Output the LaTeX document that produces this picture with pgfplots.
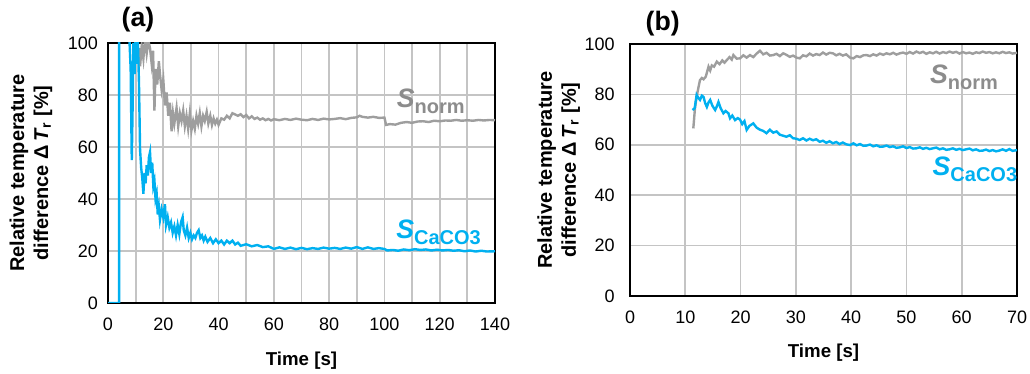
\documentclass[border=0pt]{standalone}
\usepackage{pgfplots}
\pgfplotsset{compat=1.18}
\usepackage{fontspec}
\setmainfont{Liberation Sans}
\definecolor{cblue}{HTML}{00B0F0}
\definecolor{cgray}{HTML}{9E9E9E}
\definecolor{tgray}{HTML}{8C8C8C}
\definecolor{cgrid}{HTML}{C4C4C4}
\newcommand{\Slab}[1]{{\fontsize{20}{22}\selectfont\bfseries\itshape S}\raisebox{-4.5pt}{\fontsize{15}{17}\selectfont\bfseries #1}}
\pgfplotsset{
  myax/.style={
    scale only axis,
    width=290.25pt,
    ymin=0, ymax=100,
    ytick={0,20,...,100},
    grid=both,
    major grid style={line width=1.3pt, cgrid},
    minor grid style={line width=1.3pt, cgrid},
    axis line style={line width=1pt, black},
    major tick length=0pt, minor tick length=0pt,
    tick style={draw=none},
    /pgf/number format/assume math mode=true,
    tick label style={font=\fontsize{13.5}{15}\selectfont},
    label style={font=\fontsize{14}{16.5}\selectfont\bfseries},
    ylabel style={align=center, font=\fontsize{15}{18}\selectfont\bfseries},
    ylabel={Relative temperature\\difference {\upshape Δ}\,\textit{T}\textsubscript{r} [\%]},
    xlabel={Time [s]},
    clip=true,
  }
}
\begin{document}
\begin{tikzpicture}[x=1pt,y=1pt]
\useasboundingbox (0,0) rectangle (772.5,280.5);
% ---------- panel (a)
\begin{axis}[myax, at={(81pt,53.25pt)}, anchor=south west, height=195pt,
  xmin=0, xmax=140, xtick={0,20,...,140}, minor xtick={10,30,...,130},
  xlabel style={at={(axis description cs:0.5,-0.17)}, anchor=north},
  ylabel style={at={(axis description cs:-0.132,0.5)}, anchor=south},
  yticklabel style={xshift=-4pt}, xticklabel style={yshift=-8pt}]
\addplot[cgray, line width=1.8pt] coordinates {
(10.4,100)(10.8,93)(11.2,98)(11.6,91)(12.2,99)(12.8,94)(13.4,102)(14,96)(14.6,101)(15.2,98)(15.8,92)(16.3,97)(16.8,74)(17.2,90)(17.8,84)(18.4,93)(18.8,88)(19.4,82)(20,86)(20.6,76)(21.2,81)(21.8,72)(22.4,77)(23,66)(23.5,73)(24,69)(24.8,75)(25.4,68)(26,73)(26.6,70)(27.2,74)(27.8,68)(28.4,72)(29,67)(29.6,73)(30.2,66.5)(30.8,70)(31.4,67)(32,72)(32.6,69)(33.2,73)(33.8,68)(34.4,72)(35,70)(35.7,73.5)(36.3,69)(37,72)(37.6,68.5)(38.2,71)(38.8,69)(39.4,70.5)(40,68.5)(41,71)(42,70.5)(43,72)(44,71)(45,73)(46,72.5)(47,72)(48,72.6)(49,71.5)(50,72.3)(51,71)(52,71.8)(53,70.8)(54,71.3)(55,70.5)(56,71)(57,70.3)(58,70.8)(59,70.2)(60,70.7)(62,70.3)(64,70.8)(66,70.4)(68,70.9)(70,70.5)(72,70.3)(74,70.8)(76,70.4)(78,70.9)(80,70.6)(82,70.8)(84,71.1)(86,70.7)(88,71.2)(90,71.4)(91,72)(92,71.6)(94,71.3)(96,71.6)(98,71.2)(100,71.3)(100.6,68.5)(102,68.8)(104,68.6)(106,69.3)(108,69.6)(110,69.3)(112,69.8)(114,69.9)(116,69.6)(118,70.1)(120,69.9)(122,70.2)(124,70.1)(126,70.4)(128,70.1)(130,70.3)(132,70.1)(134,70.4)(136,70.2)(138,70.4)(140,70.3)
};
\addplot[cblue, line width=1.8pt] coordinates {
(0,0)(4,0)(4,300)(7.6,300)(7.8,100)(8.2,90)(8.6,55)(8.9,75)(9.2,100)(9.6,88)(10,105)(10.4,92)(10.8,101)(11.2,85)(11.6,59)(12,52)(12.4,48)(12.8,42)(13.2,50)(13.6,46)(14,53)(14.4,49)(14.8,56)(15.2,58)(15.6,50)(16,54)(16.4,45)(16.8,47)(17.2,40)(17.6,42)(18,34)(18.4,37)(18.8,32)(19.4,36)(20,33)(20.6,38)(21,30)(21.6,33)(22.2,29)(22.8,31)(23.4,27)(24,29.5)(24.6,26)(25.2,30)(25.8,26.5)(26.4,31)(27,33)(27.4,28)(28,26)(28.6,29)(29.2,25)(29.8,27)(30.4,24.5)(31,26)(31.6,25)(32.2,27)(32.8,28)(33.4,25)(34,26)(34.6,24)(35.2,25.5)(36,23.5)(37,25)(38,23)(39,24.5)(40,23)(41,24)(42,22.5)(43,24)(44,23)(45,24)(46,22.5)(47,23.2)(48,22)(50,22.6)(52,21.8)(54,22.3)(56,21.5)(58,21.8)(60,20.8)(62,21.4)(64,20.8)(66,21.3)(68,20.7)(70,21.2)(72,20.7)(74,21.1)(76,20.8)(78,21.3)(80,20.9)(82,21.2)(84,20.8)(86,21.3)(88,20.9)(90,21.5)(92,20.8)(94,21.4)(96,20.8)(98,21.1)(100,20.8)(101,20.2)(103,20.4)(105,20.1)(107,20.6)(109,20.3)(111,20.7)(113,20.4)(115,20.6)(117,20.2)(119,20.5)(121,20.2)(123,20.4)(125,20.1)(127,20.3)(129,19.9)(131,20.2)(133,19.8)(135,20.1)(137,19.8)(140,19.9)
};
\node[anchor=base west, inner sep=0, text=tgray] at (axis cs:104.4,75.3) {\Slab{norm}};
\node[anchor=base west, inner sep=0, text=cblue] at (axis cs:104.2,24.9) {\Slab{CaCO3}};
\end{axis}
\node[font=\fontsize{20}{22}\selectfont\bfseries] at (103.5,265.5) {(a)};
% ---------- panel (b)
\begin{axis}[myax, at={(472.5pt,58.5pt)}, anchor=south west, height=189pt,
  xmin=0, xmax=70, xtick={0,10,...,70},
  xlabel style={at={(axis description cs:0.5,-0.17)}, anchor=north},
  ylabel style={at={(axis description cs:-0.117,0.5)}, anchor=south},
  yticklabel style={xshift=-8pt}, xticklabel style={yshift=-8pt}]
\addplot[cgray, line width=1.8pt] coordinates {
(11.45,66.5)(11.75,74.5)(12.05,79)(12.4,83)(12.66,85.7)(13,86.5)(13.3,86)(13.7,87)(14.2,91)(14.5,89.5)(14.8,91.5)(15.2,91)(15.7,93)(16.2,92)(16.7,93.5)(17.1,92.6)(17.5,93.6)(18,94.8)(18.4,93.8)(18.7,95.6)(19.3,94.2)(19.9,94.3)(20.5,95.5)(21.1,94.6)(21.7,95.6)(22.3,94.8)(22.9,96.2)(23.5,97.3)(24.1,95.9)(24.7,96.5)(25.3,95.4)(25.9,95.6)(26.5,96.1)(27.1,95.2)(27.7,96.3)(28.3,95.7)(28.9,94.9)(29.5,95.4)(30.1,94.6)(30.7,94.3)(31.3,95.5)(31.9,95.1)(32.5,96.2)(33.1,95.4)(33.7,96)(34.3,95.6)(34.9,96.6)(35.5,95.8)(36.1,96.5)(36.7,96.3)(37.3,95.5)(37.9,96.1)(38.5,95.4)(39.1,95.9)(39.8,94.6)(40.4,94.3)(41,95.2)(41.6,94.8)(42.2,95.5)(42.8,95.6)(43.4,95.2)(44,95.9)(44.6,95.4)(45.2,96.2)(45.8,95.7)(46.4,96.3)(47,95.9)(47.6,96.5)(48.2,95.8)(48.8,96.3)(49.4,96.6)(50,96.1)(50.6,96.8)(51.2,96.2)(51.8,97)(52.4,96.4)(53,96.9)(53.6,96.1)(54.2,96.7)(54.8,96.3)(55.4,96.9)(56,96.2)(56.6,96.8)(57.2,96.4)(57.8,97)(58.4,96.5)(59,96.9)(59.6,96.2)(60.2,96.8)(60.8,96.3)(61.4,96.6)(62,96.1)(62.6,96.7)(63.2,96.4)(63.8,97)(64.4,96.5)(65,96.8)(65.6,96.3)(66.2,96.7)(66.8,96.3)(67.4,96.9)(68,96.4)(68.6,96.7)(69.2,96.2)(70,96.5)
};
\addplot[cblue, line width=1.8pt] coordinates {
(11.3,73.8)(11.7,74.5)(12.05,79.8)(12.4,78.5)(12.66,77.8)(13,79.5)(13.3,79)(13.6,76.5)(13.9,75)(14.2,76.8)(14.5,77.8)(14.9,75.5)(15.4,73.8)(15.7,75.2)(16,77)(16.4,74.5)(16.9,72.5)(17.3,73.4)(17.8,72.5)(18.1,70.5)(18.5,71.6)(19,69.8)(19.5,70.6)(19.9,70)(20.3,68.2)(20.7,69.4)(21.1,65.9)(21.6,67.5)(22.3,68.5)(22.9,66.8)(23.5,66)(24.1,65.5)(24.7,64.6)(25.3,66)(25.9,64.8)(26.5,65.3)(27.1,64)(27.7,63.6)(28.3,63.2)(28.9,63.8)(29.5,62.6)(30.1,62.4)(30.7,61.9)(31.3,62.6)(31.9,61.7)(32.5,62.4)(33.1,61.8)(33.7,62.2)(34.3,61.2)(34.9,61.6)(35.5,60.8)(36.1,61.4)(36.7,60.6)(37.3,61.1)(37.9,60.3)(38.5,60.9)(39.1,60.2)(39.8,59.9)(40.4,60.6)(41,59.8)(41.6,60.3)(42.2,59.6)(42.8,59.7)(43.4,60.1)(44,59.4)(44.6,59.8)(45.2,59.2)(45.8,59.3)(46.4,59.7)(47,59.1)(47.6,59.4)(48.2,58.8)(48.8,59)(49.4,59.4)(50,58.7)(50.6,59.1)(51.2,58.5)(51.8,58.6)(52.4,59)(53,58.4)(53.6,58.8)(54.2,58.3)(54.8,58.6)(55.4,58.9)(56,58.2)(56.6,58.6)(57.2,58)(57.8,58.2)(58.4,58.6)(59,58)(59.6,58.4)(60.2,57.9)(60.8,58.2)(61.4,58.5)(62,57.8)(62.6,58.2)(63.2,57.6)(63.8,57.7)(64.4,58.1)(65,57.5)(65.6,57.9)(66.2,57.4)(66.8,57.7)(67.4,58.2)(68,57.6)(68.6,58.3)(69.2,57.6)(70,57.9)
};
\node[anchor=base west, inner sep=0, text=tgray] at (axis cs:54.25,84.4) {\Slab{norm}};
\node[anchor=base west, inner sep=0, text=cblue] at (axis cs:54.7,48) {\Slab{CaCO3}};
\end{axis}
\node[font=\fontsize{20}{22}\selectfont\bfseries] at (497,262.5) {(b)};
\end{tikzpicture}
\end{document}
